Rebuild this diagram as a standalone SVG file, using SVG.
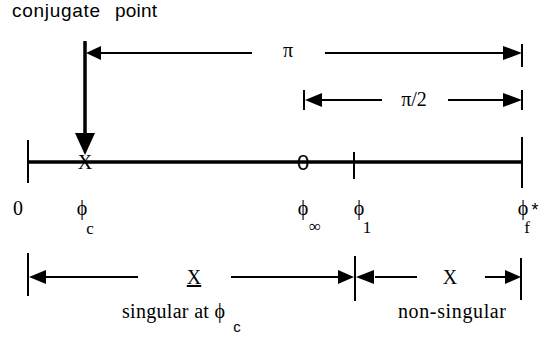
<svg xmlns="http://www.w3.org/2000/svg" width="558" height="338" viewBox="0 0 558 338">
<style>
.ln{stroke:#000;fill:none;stroke-width:2}
.thick{stroke:#000;fill:none;stroke-width:3.5}
.ah{fill:#000;stroke:none}
text{fill:#000}
</style>
<rect width="558" height="338" fill="#fff"/>
<g id="title"><text font-family="Liberation Sans, Arial, sans-serif" font-size="19" y="17"><tspan x="12" textLength="88" lengthAdjust="spacing">conjugate</tspan><tspan x="115" textLength="42" lengthAdjust="spacing">point</tspan></text></g>
<g id="axis">
<path class="thick" d="M28 162H522"/>
<path class="ln" d="M28 140V183M354 152V179M522 137V188"/>
<text font-family="Liberation Serif, DejaVu Serif, serif" font-size="20" x="85" y="169" text-anchor="middle">X</text>
<text font-family="Liberation Sans, Arial, sans-serif" font-size="22" x="303" y="170" text-anchor="middle">0</text>
</g>
<g id="labels" font-family="Liberation Serif, DejaVu Serif, serif" font-size="20">
<text x="18" y="215" text-anchor="middle">0</text>
<text x="82" y="215" text-anchor="middle">ϕ</text><text x="90" y="234" text-anchor="middle" font-size="17">c</text>
<text x="303" y="215" text-anchor="middle">ϕ</text><text x="315" y="232" text-anchor="middle" font-size="17">∞</text>
<text x="359" y="215" text-anchor="middle">ϕ</text><text x="367" y="233" text-anchor="middle" font-size="17">1</text>
<text x="523" y="215" text-anchor="middle">ϕ</text><text font-family="Liberation Sans, Arial, sans-serif" x="535" y="216" text-anchor="middle" font-size="18">*</text><text x="527" y="233" text-anchor="middle" font-size="17">f</text>
</g>
<g id="connectors">
<path class="thick" d="M85 41V136"/>
<polygon class="ah" points="75,133 95,133 85,155"/>
<path class="ln" d="M100 53H252M325 53H504"/>
<polygon class="ah" points="86,53 101,46 101,60"/>
<polygon class="ah" points="522,53 503,46 503,60"/>
<path class="ln" d="M522 44V67M522 90V110M304 90V110"/>
<path class="ln" d="M322 100H382M448 100H504"/>
<polygon class="ah" points="305,100 322,93 322,107"/>
<polygon class="ah" points="522,100 503,93 503,107"/>
<path class="ln" d="M28 253V296M355 256V301M521 258V300"/>
<path class="ln" d="M46 277H138M231 277H339M375 277H417M485 277H506"/>
<polygon class="ah" points="29,277 46,270 46,284"/>
<polygon class="ah" points="354,277 338,270 338,284"/>
<polygon class="ah" points="356,277 374,270 374,284"/>
<polygon class="ah" points="521,277 505,270 505,284"/>
</g>
<g id="dimtext" font-family="Liberation Serif, DejaVu Serif, serif">
<text x="288" y="57" font-size="20" text-anchor="middle">π</text>
<text x="414" y="106" font-size="20" text-anchor="middle">π/2</text>
<text x="194" y="284" font-size="20" text-anchor="middle" text-decoration="underline">X</text>
<text x="450" y="284" font-size="20" text-anchor="middle">X</text>
<text x="122" y="318" font-size="20" textLength="103" lengthAdjust="spacing">singular at ϕ</text>
<text font-family="Liberation Sans, Arial, sans-serif" x="237" y="332" font-size="15" text-anchor="middle">c</text>
<text x="398" y="318" font-size="20" textLength="108" lengthAdjust="spacing">non-singular</text>
</g>
</svg>
